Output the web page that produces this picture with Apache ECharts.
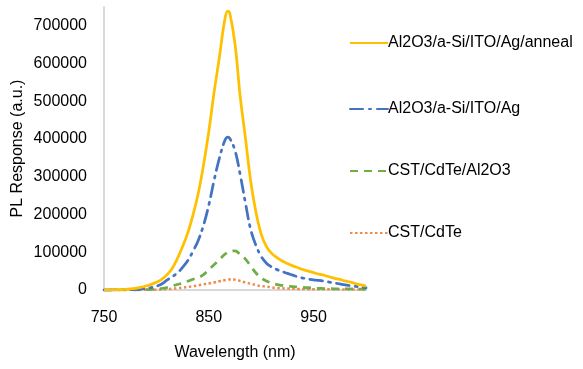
<!DOCTYPE html>
<html>
<head>
<meta charset="utf-8">
<script src="https://cdn.jsdelivr.net/npm/echarts@6/dist/echarts.min.js"></script>
<style>
  html, body { margin: 0; padding: 0; background: #fff; }
  #chart { width: 583px; height: 369px; }
</style>
</head>
<body>
<div id="chart"></div>
<script>
// Wavelength grid (nm)
const wavelengths = [750, 755, 760, 765, 770, 775, 780, 785, 790, 795,
  800, 805, 810, 815, 820, 825, 830, 835, 840, 845,
  850, 855, 860, 865, 868, 870, 875, 880, 885, 890, 895,
  900, 905, 910, 915, 920, 925, 930, 935, 940, 945,
  950, 955, 960, 965, 970, 975, 980, 985, 990, 995, 1000];

// PL response per sample (a.u.)
const annealed = [0, 300, 600, 1000, 1700, 2800, 4500, 7000, 10500, 15000,
  20500, 28000, 40000, 57000, 83000, 115000, 152000, 200000, 257000, 332000,
  420000, 523000, 615000, 712000, 739000, 734000, 652000, 512000, 402000, 288000, 206000,
  148000, 115000, 97000, 86000, 77000, 70000, 64000, 59000, 54000, 50000,
  46000, 42000, 39000, 35000, 31000, 28000, 24000, 21000, 17000, 13500, 10500];

const stackAg = [0, 0, 200, 400, 700, 1000, 1500, 2500, 4000, 6500,
  10000, 16000, 26000, 35000, 45000, 60000, 78000, 103000, 132000, 172000,
  225000, 290000, 348000, 394000, 405000, 402000, 370000, 305000, 230000, 160000, 118000,
  89000, 71000, 61000, 54000, 49000, 44000, 39500, 35000, 31500, 29000,
  27000, 25500, 23500, 21000, 18500, 16000, 13500, 11500, 9500, 7500, 6000];

const cdteAl2o3 = [0, 0, 0, 0, 100, 200, 300, 500, 900, 1500,
  2500, 4000, 6500, 10500, 14500, 18500, 23500, 28500, 33000, 41000,
  54000, 67000, 80000, 94000, 100000, 103000, 103500, 94000, 82000, 63000, 45000,
  32000, 24000, 18500, 14500, 12000, 10000, 9000, 8000, 7000, 6000,
  5000, 4300, 3800, 3500, 3300, 3100, 3000, 2800, 2700, 2600, 2500];

const cdte = [0, 0, 0, 0, 100, 150, 200, 300, 400, 600,
  1000, 1600, 2400, 3300, 4500, 6300, 8000, 10000, 12500, 15000,
  17500, 20000, 23000, 26000, 27500, 28000, 27500, 24000, 20000, 16500, 13000,
  10500, 9000, 7000, 5500, 4500, 3800, 3200, 2800, 2500, 2300,
  2100, 2000, 1900, 1800, 1700, 1700, 1600, 1600, 1500, 1500, 1500];

const seriesNames = ['Al2O3/a-Si/ITO/Ag/anneal', 'Al2O3/a-Si/ITO/Ag', 'CST/CdTe/Al2O3', 'CST/CdTe'];

const pairs = vals => wavelengths.map((w, i) => [w, vals[i]]);

const chart = echarts.init(document.getElementById('chart'), null, { renderer: 'canvas' });

const textColor = '#000';
const fontFamily = 'Liberation Sans, Arial, sans-serif';

// One legend block per entry so each row sits at its own height
const legendTops = [30, 96, 158, 220];
const legends = seriesNames.map((name, i) => ({
  orient: 'vertical',
  left: 344,
  top: legendTops[i],
  itemWidth: 38,
  itemHeight: 14,
  itemStyle: { opacity: 0 },
  textStyle: { color: textColor, fontSize: 16, fontFamily, padding: [0, 0, 0, -5] },
  data: [name]
}));

chart.setOption({
  animation: false,
  backgroundColor: '#fff',
  grid: { left: 104, top: 7, width: 262, height: 283, containLabel: false },
  legend: legends,
  xAxis: {
    type: 'value',
    min: 750,
    max: 1000,
    interval: 100,
    name: 'Wavelength (nm)',
    nameLocation: 'middle',
    nameGap: 55,
    nameTextStyle: { color: textColor, fontSize: 16, fontFamily },
    axisLine: { show: true, lineStyle: { color: '#D9D9D9', width: 2 } },
    axisTick: { show: false },
    splitLine: { show: false },
    axisLabel: { color: textColor, fontSize: 16, fontFamily, margin: 20, showMaxLabel: false }
  },
  yAxis: {
    type: 'value',
    min: 0,
    max: 750000,
    interval: 100000,
    name: 'PL Response (a.u.)',
    nameLocation: 'middle',
    nameGap: 78,
    nameTextStyle: { color: textColor, fontSize: 16, fontFamily },
    axisLine: { show: true, lineStyle: { color: '#D9D9D9', width: 2 } },
    axisTick: { show: false },
    splitLine: { show: false },
    axisLabel: {
      color: textColor, fontSize: 16, fontFamily, margin: 17, showMaxLabel: false,
      formatter: v => String(v)
    }
  },
  series: [
    {
      name: seriesNames[0], type: 'line', data: pairs(annealed), smooth: 0.4,
      symbol: 'none', z: 4,
      itemStyle: { color: '#FFC000' },
      lineStyle: { color: '#FFC000', width: 2.75, type: 'solid' }
    },
    {
      name: seriesNames[1], type: 'line', data: pairs(stackAg), smooth: 0.4,
      symbol: 'none', z: 3,
      itemStyle: { color: '#4472C4' },
      lineStyle: { color: '#4472C4', width: 2.75, type: [13, 6, 2, 6], cap: 'round' }
    },
    {
      name: seriesNames[2], type: 'line', data: pairs(cdteAl2o3), smooth: 0.4,
      symbol: 'none', z: 2,
      itemStyle: { color: '#70AD47' },
      lineStyle: { color: '#70AD47', width: 2.75, type: [8, 6] }
    },
    {
      name: seriesNames[3], type: 'line', data: pairs(cdte), smooth: 0.4,
      symbol: 'none', z: 1,
      itemStyle: { color: '#ED7D31' },
      lineStyle: { color: '#F08A4B', width: 2.5, type: [2.5, 2.5] }
    }
  ]
});
</script>
</body>
</html>
